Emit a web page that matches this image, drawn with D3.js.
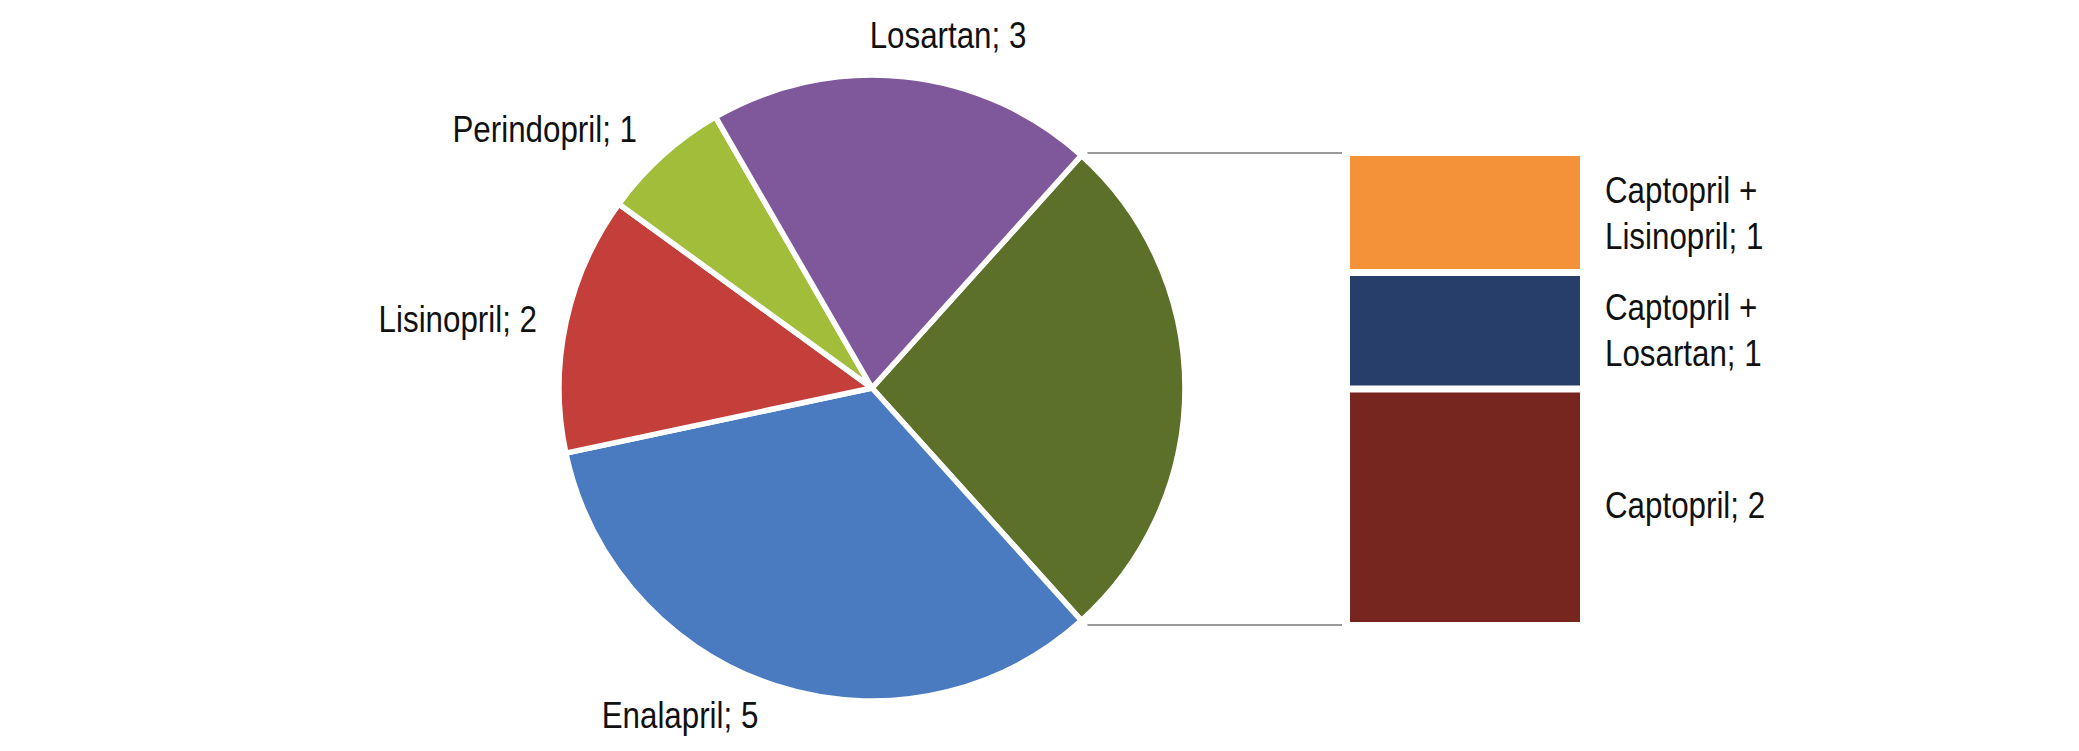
<!DOCTYPE html>
<html>
<head>
<meta charset="utf-8">
<script src="https://cdn.jsdelivr.net/npm/d3@7"></script>
<style>
  html, body { margin: 0; padding: 0; background: #fff; }
  svg text { font-family: "Liberation Sans Narrow", "Arial Narrow", "Liberation Sans", sans-serif; fill: #111; }
</style>
</head>
<body>
<svg id="chart" width="2079" height="751"></svg>
<script>
// Pie data (clockwise starting from the "other" wedge)
const pieCategories = ["Captopril group", "Enalapril", "Lisinopril", "Perindopril", "Losartan"];
const pieValues = [4, 5, 2, 1, 3];
const pieColors = ["#5c7029", "#4a7abf", "#c43e3a", "#a2bd3a", "#7f579b"];
const pieLabels = ["", "Enalapril; 5", "Lisinopril; 2", "Perindopril; 1", "Losartan; 3"];

// Breakdown bar data (top to bottom)
const barCategories = ["Captopril + Lisinopril", "Captopril + Losartan", "Captopril"];
const barValues = [1, 1, 2];
const barColors = ["#f39238", "#273d6a", "#77251f"];
const barLabels = [["Captopril +", "Lisinopril; 1"], ["Captopril +", "Losartan; 1"], ["Captopril; 2"]];

const svg = d3.select("#chart");
const cx = 872, cy = 388, R = 313;
const startDeg = 42;
const sx = 0.87; // horizontal condensing of the label font

const pie = d3.pie().sort(null).value(d => d)
  .startAngle(startDeg * Math.PI / 180)
  .endAngle(startDeg * Math.PI / 180 + 2 * Math.PI);
const arcs = pie(pieValues);
const arc = d3.arc().innerRadius(0).outerRadius(R);

const g = svg.append("g").attr("transform", `translate(${cx},${cy})`);
g.selectAll("path").data(arcs).enter().append("path")
  .attr("d", arc)
  .attr("fill", (d, i) => pieColors[i])
  .attr("stroke", "#fff")
  .attr("stroke-width", 5.5)
  .attr("stroke-linejoin", "round");

// Bar of pie
const barX0 = 1350, barX1 = 1580, barTop = 156, barBottom = 622;
const total = d3.sum(barValues);
const y = d3.scaleLinear().domain([0, total]).range([barTop, barBottom]);
const gap = 7;
let cum = 0;
const stacks = barValues.map((v, i) => { const s = { i, v, y0: cum, y1: cum + v }; cum += v; return s; });
svg.selectAll("rect.bar").data(stacks).enter().append("rect")
  .attr("class", "bar")
  .attr("x", barX0)
  .attr("width", barX1 - barX0)
  .attr("y", d => y(d.y0) + (d.i === 0 ? 0 : gap / 2))
  .attr("height", d => y(d.y1) - y(d.y0) - (d.i === 0 || d.i === stacks.length - 1 ? gap / 2 : gap))
  .attr("fill", d => barColors[d.i]);

// Connector lines from the "other" wedge edges
const otherArc = arcs[0];
const pt = a => [cx + R * Math.sin(a), cy - R * Math.cos(a)];
const pA = pt(otherArc.startAngle), pB = pt(otherArc.endAngle);
svg.append("line").attr("x1", pA[0] + 6).attr("y1", barTop - 3).attr("x2", barX0 - 8).attr("y2", barTop - 3)
  .attr("stroke", "#9a9a9a").attr("stroke-width", 2);
svg.append("line").attr("x1", pB[0] + 6).attr("y1", barBottom + 3).attr("x2", barX0 - 8).attr("y2", barBottom + 3)
  .attr("stroke", "#9a9a9a").attr("stroke-width", 2);

// Pie labels
const fs = 36;
const labelPos = [null,
  { x: 680, y: 728, anchor: "middle" },
  { x: 537, y: 332, anchor: "end" },
  { x: 637, y: 142, anchor: "end" },
  { x: 948, y: 48, anchor: "middle" }];
pieLabels.forEach((t, i) => {
  if (!t) return;
  const p = labelPos[i];
  svg.append("text").attr("transform", `translate(${p.x},${p.y}) scale(${sx},1)`)
    .attr("text-anchor", p.anchor)
    .attr("font-size", fs).text(t);
});

// Bar labels
const barLabelX = 1605;
stacks.forEach(s => {
  const lines = barLabels[s.i];
  const mid = (y(s.y0) + y(s.y1)) / 2;
  const lh = 46;
  const first = mid + 12 - (lines.length - 1) * lh / 2;
  const t = svg.append("text").attr("transform", `translate(${barLabelX},${first}) scale(${sx},1)`)
    .attr("font-size", fs);
  lines.forEach((ln, k) => {
    t.append("tspan").attr("x", 0).attr("y", k * lh).text(ln);
  });
});
</script>
</body>
</html>
